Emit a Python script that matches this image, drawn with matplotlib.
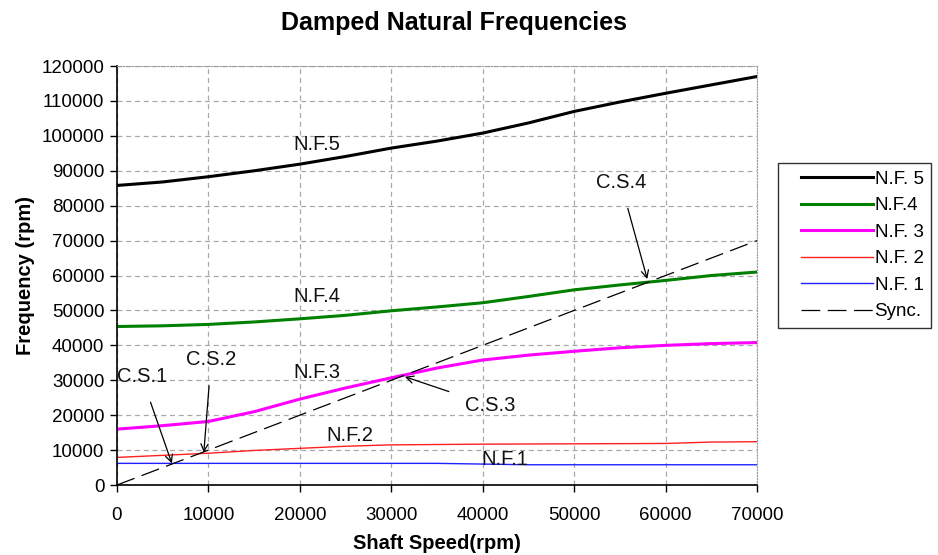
import matplotlib.pyplot as plt
from matplotlib.legend_handler import HandlerLine2D
import numpy as np

plt.rcParams['font.family'] = ['Liberation Sans', 'DejaVu Sans']

# Shaft speed sample points (rpm)
speed = [0, 5000, 10000, 15000, 20000, 25000, 30000, 35000, 40000,
         45000, 50000, 55000, 60000, 65000, 70000]

# Natural frequencies (rpm)
nf5 = [85800, 86800, 88300, 90000, 91900, 94100, 96500, 98500, 100800,
       103700, 107000, 109700, 112200, 114600, 117000]
nf4 = [45400, 45600, 46000, 46700, 47600, 48600, 49900, 51000, 52200,
       54000, 55900, 57300, 58600, 60000, 61000]
nf3 = [16000, 17000, 18200, 21000, 24600, 27800, 30700, 33500, 35800,
       37200, 38300, 39300, 40000, 40500, 40800]
nf2 = [7900, 8500, 9100, 9900, 10500, 11100, 11500, 11600, 11700,
       11750, 11800, 11850, 11900, 12300, 12400]
nf1 = [6200, 6200, 6200, 6200, 6200, 6200, 6200, 6200, 6000,
       5800, 5800, 5800, 5800, 5800, 5800]
sync = [0, 70000]

# Curve labels and critical speed annotations
curve_labels = ['N.F.5', 'N.F.4', 'N.F.3', 'N.F.2', 'N.F.1']
curve_label_xy = [(21900, 97600), (21900, 54000), (21900, 32300), (25500, 14200), (42400, 7300)]
cs_labels = ['C.S.1', 'C.S.2', 'C.S.3', 'C.S.4']
cs_points = [(6000, 6200), (9500, 9300), (31500, 31000), (58000, 59000)]
cs_text = [(2700, 31000), (10300, 35900), (40800, 22800), (55100, 86600)]

fig = plt.figure(figsize=(9.38, 5.55), dpi=100)
ax = fig.add_axes([0.1247, 0.1261, 0.6823, 0.7549])

ax.plot(speed, nf5, color='black', lw=2.2, label='N.F. 5')
ax.plot(speed, nf4, color='#008000', lw=2.2, label='N.F.4')
ax.plot(speed, nf3, color='#ff00ff', lw=2.2, label='N.F. 3')
ax.plot(speed, nf2, color='#ff2020', lw=1.0, label='N.F. 2')
ax.plot(speed, nf1, color='#2020ff', lw=1.0, label='N.F. 1')
ax.plot(sync, sync, color='black', lw=0.9, dashes=(15, 6), label='Sync.')

for txt, (x, y) in zip(curve_labels, curve_label_xy):
    ax.text(x, y, txt, fontsize=14.5, ha='center', va='center', color='#111111')

for txt, pt, tp in zip(cs_labels, cs_points, cs_text):
    ax.annotate(txt, xy=pt, xytext=tp, fontsize=14.5, ha='center', va='center',
                color='#111111',
                arrowprops=dict(arrowstyle='->', color='black', lw=0.9,
                                shrinkA=10, shrinkB=0, mutation_scale=13))

ax.set_xlim(0, 70000)
ax.set_ylim(0, 120000)
ax.set_xticks(np.arange(0, 70001, 10000))
ax.set_yticks(np.arange(0, 120001, 10000))
ax.tick_params(labelsize=13.5, direction='out', length=5, width=1)
ax.tick_params(axis='x', pad=11)
ax.tick_params(axis='y', pad=4)
ax.grid(True, color='#a8a8a8', lw=0.9, dashes=(4, 3))

for s in ['top', 'right']:
    ax.spines[s].set_color('#999999')
    ax.spines[s].set_linestyle(':')
for s in ['left', 'bottom']:
    ax.spines[s].set_color('black')
    ax.spines[s].set_linewidth(1.2)

ax.set_xlabel('Shaft Speed(rpm)', fontsize=14.5, fontweight='bold', labelpad=7)
ax.set_ylabel('Frequency (rpm)', fontsize=14.5, fontweight='bold', labelpad=5)
fig.text(0.484, 0.958, 'Damped Natural Frequencies', fontsize=18, fontweight='bold',
         ha='center', va='center')

# legend handles start a bit in from the frame, as in the original
hmap = {h: HandlerLine2D(xpad=0.83) for h in ax.get_lines()}
leg = fig.legend(loc='upper left', bbox_to_anchor=(0.829, 0.706), fontsize=13.5,
                 frameon=True, fancybox=False, edgecolor='black', handlelength=4.67,
                 handletextpad=0.1, borderpad=0.4, labelspacing=0.5, borderaxespad=0,
                 handler_map=hmap)
leg.get_frame().set_linewidth(1.0)

fig.savefig('out.png', dpi=100)
